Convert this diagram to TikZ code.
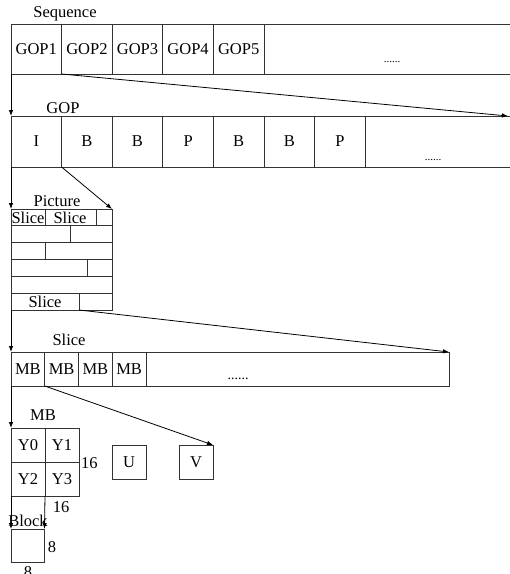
\documentclass[tikz,border=0pt]{standalone}
\usepackage{fontspec}
\setmainfont{Liberation Serif}
\usetikzlibrary{arrows.meta,positioning}

\begin{document}
\begin{tikzpicture}[x=1pt,y=-1pt,>={Latex[length=6pt,width=4.5pt]},
  every node/.style={font=\fontsize{16.5}{19}\selectfont},
  cellbox/.style={draw=black!80,line width=0.8pt,anchor=north west,inner sep=0pt,outer sep=0pt},
  rowline/.style={draw=black!80,line width=0.8pt},
  dotsnode/.style={anchor=base,inner sep=0pt,font=\fontsize{11}{12}\selectfont},
  link/.style={->,line width=0.8pt}]
\useasboundingbox (0,0) rectangle (510,574);
% sequence
\node at (65,14) {Sequence};
\foreach \t [count=\i] in {GOP1,GOP2,GOP3,GOP4,GOP5}
  \node[cellbox,minimum width=50.6,minimum height=50] (seq\i) at ({11+50.6*(\i-1)},24) {\t};
\node[cellbox,minimum width=260,minimum height=50] (seqrest) at (264,24) {};
\node[dotsnode] at (392,62) {......};
% gop
\node at (63,108) {GOP};
\foreach \t [count=\i] in {I,B,B,P,B,B,P}
  \node[cellbox,minimum width=50.6,minimum height=51] (gop\i) at ({11+50.6*(\i-1)},116) {\t};
\node[cellbox,minimum width=160,minimum height=51] (goprest) at (365.2,116) {};
\node[dotsnode] at (433,160) {......};
\coordinate (gopend) at (508,116);
% picture
\node at (57,201) {Picture};
\node[cellbox,minimum width=101,minimum height=101] (pic) at (11,209) {};
\foreach \k in {1,...,5}
  \draw[rowline] (11,{209+16.83*\k}) -- (112,{209+16.83*\k});
\draw[rowline] (45,209) -- (45,226) (96,209) -- (96,226);
\draw[rowline] (70,226) -- (70,243);
\draw[rowline] (45,243) -- (45,260);
\draw[rowline] (87,260) -- (87,276);
\draw[rowline] (79,293) -- (79,310);
\coordinate (slcut) at (79,310);
\node[inner sep=0pt] at (28,218) {Slice};
\node[inner sep=0pt] at (70,218) {Slice};
\node[inner sep=0pt] at (45,302) {Slice};
% slice
\node at (69,340) {Slice};
\foreach \i in {1,...,4}
  \node[cellbox,minimum width=33.75,minimum height=34] (mb\i) at ({11+33.75*(\i-1)},352) {MB};
\node[cellbox,minimum width=303,minimum height=34] (mbrest) at (146,352) {};
\node[dotsnode,font=\fontsize{14}{16}\selectfont] at (238,379) {......};
% macroblock
\node at (43,415) {MB};
\node[cellbox,minimum size=34] (y0) at (11,428) {Y0};
\node[cellbox,minimum size=34] (y1) at (45,428) {Y1};
\node[cellbox,minimum size=34] (y2) at (11,462) {Y2};
\node[cellbox,minimum size=34] (y3) at (45,462) {Y3};
\node[anchor=west,inner sep=0pt] at (81,463) {16};
\node at (61,507) {16};
\node[cellbox,minimum size=34] (u) at (112,445) {U};
\node[cellbox,minimum size=34] (v) at (179,445) {V};
% block
\node[cellbox,minimum size=33.5] (blk) at (11,529) {};
\node[inner sep=0pt] at (28,521) {Block};
\node at (52,547) {8};
\node at (28,572) {8};
% links
\draw[link] (seq1.south west) -- (gop1.north west);
\draw[link] (seq1.south east) -- (gopend);
\draw[link] (gop1.south west) -- (pic.north west);
\draw[link] (gop1.south east) -- (pic.north east);
\draw[link] (pic.south west) -- (mb1.north west);
\draw[link] (slcut) -- (mbrest.north east);
\draw[link] (mb1.south west) -- (y0.north west);
\draw[link] (mb1.south east) -- (v.north east);
\draw[link] (y2.south west) -- (blk.north west);
\draw[link] (y2.south east) -- (blk.north east);
\end{tikzpicture}
\end{document}
